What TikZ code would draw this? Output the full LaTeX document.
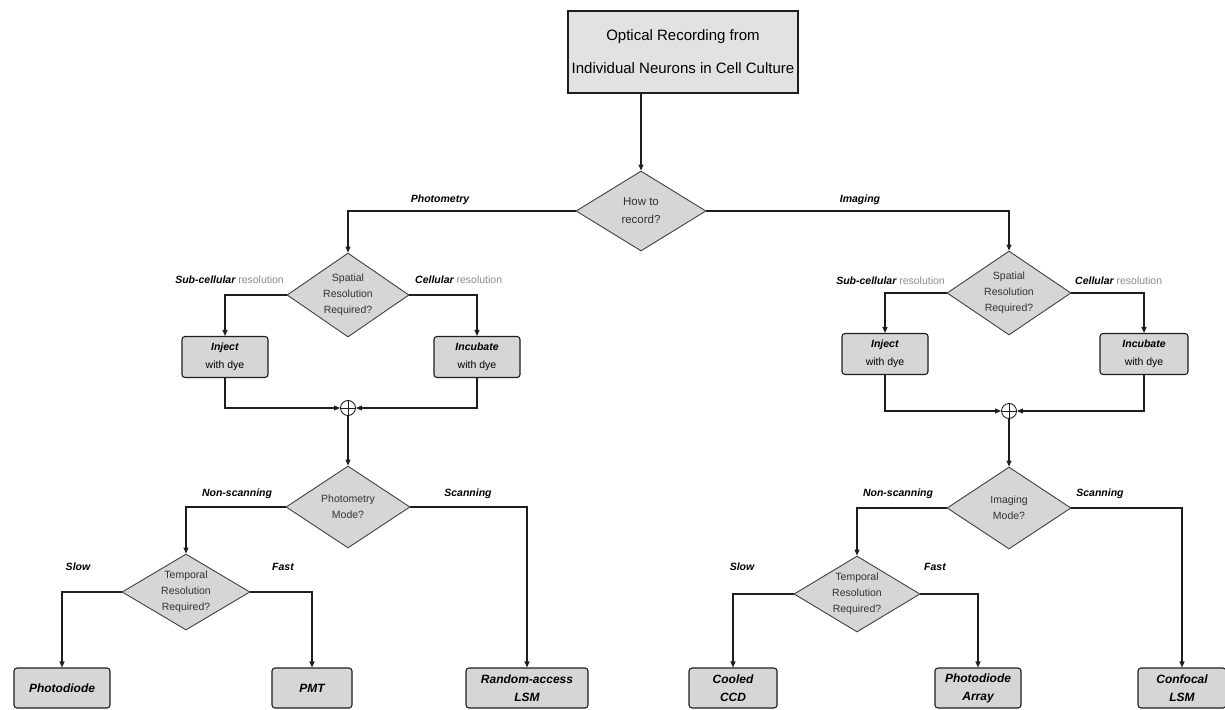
\documentclass[tikz,border=0pt]{standalone}
\usepackage{fontspec}
\setmainfont{Liberation Sans}
\usetikzlibrary{shapes.geometric,arrows.meta,calc}
\definecolor{fillg}{HTML}{D6D6D6}
\definecolor{titleg}{HTML}{E2E2E2}
\definecolor{lineg}{HTML}{1E1E1E}
\definecolor{resg}{HTML}{8A8A8A}
\begin{document}
\begin{tikzpicture}[x=1pt,y=-1pt,
  line/.style={draw=lineg, line width=1.1pt},
  arr/.style={line, -{Triangle[length=6pt,width=5pt]}},
  dia/.style={diamond, draw=lineg!85, fill=fillg, line width=0.9pt, inner sep=0pt},
  dtext/.style={align=center, font=\fontsize{10.5}{16}\selectfont, text=black!80},
  box/.style={rectangle, rounded corners=3pt, draw=lineg, fill=fillg, line width=1.1pt, inner sep=0pt, align=center},
  boxtext/.style={font=\fontsize{10.5}{18}\selectfont},
  endbox/.style={box, font=\fontsize{12}{18}\bfseries\itshape\selectfont},
  lab/.style={font=\fontsize{10.5}{12}\bfseries\itshape\selectfont, inner sep=1pt},
  circ/.style={circle, draw=lineg, line width=0.9pt, minimum size=15pt, inner sep=0pt, fill=white,
    path picture={\draw[lineg, line width=0.9pt] (path picture bounding box.north) -- (path picture bounding box.south)
      (path picture bounding box.west) -- (path picture bounding box.east);}}
]
\useasboundingbox (0,0) rectangle (1225,709);

% title
\node[rectangle, draw=lineg, fill=titleg, line width=1.4pt, minimum width=230pt, minimum height=82pt,
  align=center, font=\fontsize{15}{33}\selectfont] (title) at (683,52)
  {Optical Recording from\\Individual Neurons in Cell Culture};

% root decision
\node[dia, minimum width=130pt, minimum height=80pt, label={[dtext, font=\fontsize{11.5}{18}\selectfont]center:How to\\record?}] (how) at (641,211) {};

% ---------- left (photometry) ----------
\node[dia, minimum width=122pt, minimum height=84pt, label={[dtext]center:Spatial\\Resolution\\Required?}] (Ls) at (348,295) {};
\node[box, minimum width=86pt, minimum height=41pt, boxtext] (Li) at (225,357) {\textbf{\textit{Inject}}\\with dye};
\node[box, minimum width=86pt, minimum height=41pt, boxtext] (Lc) at (477,357) {\textbf{\textit{Incubate}}\\with dye};
\node[circ] (Lo) at (348,408) {};
\node[dia, minimum width=124pt, minimum height=82pt, label={[dtext]center:Photometry\\Mode?}] (Lm) at (348,507) {};
\node[dia, minimum width=128pt, minimum height=76pt, label={[dtext]center:Temporal\\Resolution\\Required?}] (Lt) at (186,592) {};
\node[endbox, minimum width=96pt, minimum height=40pt] (Lp1) at (62,688) {Photodiode};
\node[endbox, minimum width=80pt, minimum height=40pt] (Lp2) at (312,688) {PMT};
\node[endbox, minimum width=122pt, minimum height=40pt] (Lp3) at (527,688) {Random-access\\LSM};

% ---------- right (imaging) ----------
\node[dia, minimum width=124pt, minimum height=84pt, label={[dtext]center:Spatial\\Resolution\\Required?}] (Rs) at (1009,293) {};
\node[box, minimum width=86pt, minimum height=41pt, boxtext] (Ri) at (885,354) {\textbf{\textit{Inject}}\\with dye};
\node[box, minimum width=88pt, minimum height=41pt, boxtext] (Rc) at (1144,354) {\textbf{\textit{Incubate}}\\with dye};
\node[circ] (Ro) at (1009,411) {};
\node[dia, minimum width=124pt, minimum height=82pt, label={[dtext]center:Imaging\\Mode?}] (Rm) at (1009,508) {};
\node[dia, minimum width=126pt, minimum height=76pt, label={[dtext]center:Temporal\\Resolution\\Required?}] (Rt) at (857,594) {};
\node[endbox, minimum width=88pt, minimum height=40pt] (Rp1) at (733,688) {Cooled\\CCD};
\node[endbox, minimum width=86pt, minimum height=40pt] (Rp2) at (978,688) {Photodiode\\Array};
\node[endbox, minimum width=88pt, minimum height=40pt] (Rp3) at (1182,688) {Confocal\\LSM};

% ---------- connectors ----------
\draw[arr] (title.south -| how.north) -- (how.north);
\draw[arr] (how.west) -| (Ls.north);
\draw[arr] (how.east) -| (Rs.north);

\draw[arr] (Ls.west) -| (Li.north);
\draw[arr] (Ls.east) -| (Lc.north);
\draw[arr] (Li.south) |- (Lo.west);
\draw[arr] (Lc.south) |- (Lo.east);
\draw[arr] (Lo.south) -- (Lm.north);
\draw[arr] (Lm.west) -| (Lt.north);
\draw[arr] (Lm.east) -| (Lp3.north);
\draw[arr] (Lt.west) -| (Lp1.north);
\draw[arr] (Lt.east) -| (Lp2.north);

\draw[arr] (Rs.west) -| (Ri.north);
\draw[arr] (Rs.east) -| (Rc.north);
\draw[arr] (Ri.south) |- (Ro.west);
\draw[arr] (Rc.south) |- (Ro.east);
\draw[arr] (Ro.south) -- (Rm.north);
\draw[arr] (Rm.west) -| (Rt.north);
\draw[arr] (Rm.east) -| (Rp3.north);
\draw[arr] (Rt.west) -| (Rp1.north);
\draw[arr] (Rt.east) -| (Rp2.north);

% ---------- branch labels ----------
\node[lab] (lPhot) at (440,200) {Photometry};
\node[lab] (lImag) at (860,200) {Imaging};

\node[lab, anchor=east] (lLsub) at (285,280) {Sub-cellular \textcolor{resg}{\mdseries\upshape resolution}};
\node[lab, anchor=west] (lLcel) at (414,280) {Cellular \textcolor{resg}{\mdseries\upshape resolution}};
\node[lab, anchor=east] (lRsub) at (946,281) {Sub-cellular \textcolor{resg}{\mdseries\upshape resolution}};
\node[lab, anchor=west] (lRcel) at (1074,281) {Cellular \textcolor{resg}{\mdseries\upshape resolution}};

\node[lab] (lLns) at (237,494) {Non-scanning};
\node[lab] (lLsc) at (468,494) {Scanning};
\node[lab] (lRns) at (898,494) {Non-scanning};
\node[lab] (lRsc) at (1100,494) {Scanning};

\node[lab] (lLsl) at (78,567) {Slow};
\node[lab] (lLfa) at (283,567) {Fast};
\node[lab] (lRsl) at (742,567) {Slow};
\node[lab] (lRfa) at (935,567) {Fast};
\end{tikzpicture}
\end{document}
